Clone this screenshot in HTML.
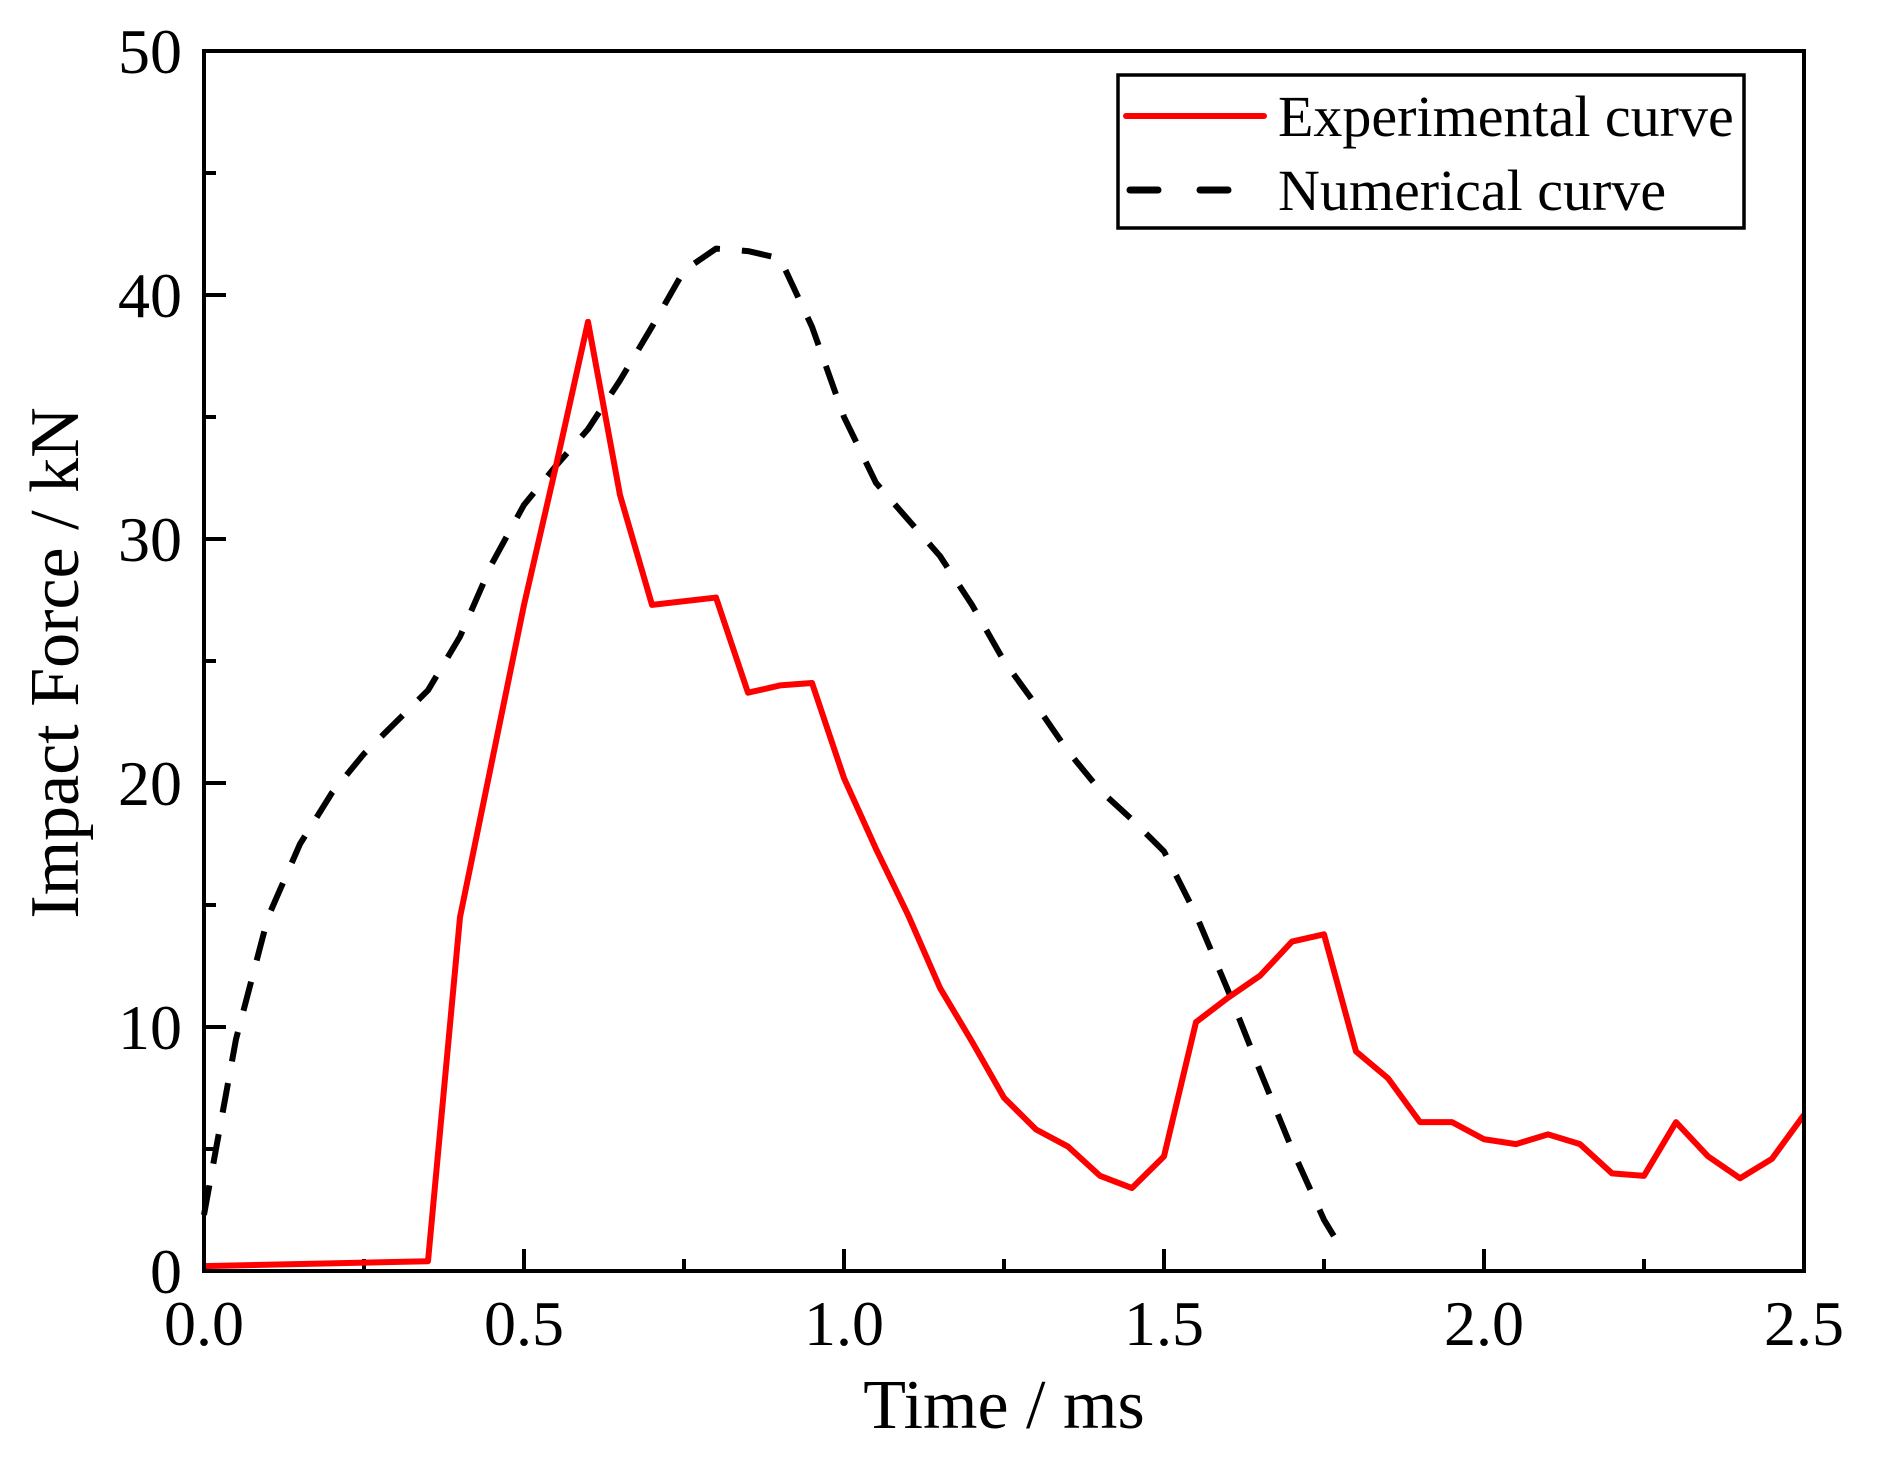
<!DOCTYPE html>
<html><head><meta charset="utf-8"><style>
body{margin:0;background:#fff}
svg{display:block}
text{font-family:"Liberation Serif",serif;fill:#000}
</style></head><body>
<svg id="chart" width="1879" height="1464" viewBox="0 0 1879 1464" xmlns="http://www.w3.org/2000/svg">
<g id="plot"></g>
</svg>
<script>
const expT=[0,0.35,0.4,0.5,0.55,0.6,0.65,0.7,0.8,0.85,0.9,0.95,1.0,1.05,1.1,1.15,1.2,1.25,1.3,1.35,1.4,1.45,1.5,1.55,1.6,1.65,1.7,1.75,1.8,1.85,1.9,1.95,2.0,2.05,2.1,2.15,2.2,2.25,2.3,2.35,2.4,2.45,2.5];
const expF=[0.2,0.4,14.5,27.3,33,38.9,31.8,27.3,27.6,23.7,24,24.1,20.2,17.3,14.6,11.6,9.4,7.1,5.8,5.1,3.9,3.4,4.7,10.2,11.2,12.1,13.5,13.8,9.0,7.9,6.1,6.1,5.4,5.2,5.6,5.2,4.0,3.9,6.1,4.7,3.8,4.6,6.4];
const numT=[0,0.05,0.1,0.15,0.2,0.25,0.3,0.35,0.4,0.45,0.5,0.55,0.6,0.65,0.7,0.75,0.8,0.85,0.9,0.95,1.0,1.05,1.1,1.15,1.2,1.25,1.3,1.35,1.4,1.45,1.5,1.55,1.6,1.65,1.7,1.75,1.78];
const numF=[2.3,9.5,14.5,17.5,19.6,21.2,22.5,23.8,26,29,31.4,33,34.5,36.5,38.7,41,41.9,41.8,41.5,38.7,35,32.3,30.8,29.3,27.3,25,23.2,21.3,19.7,18.5,17.2,14.6,11.5,8.2,5.0,2.1,0.8];
const xTicks=["0.0","0.5","1.0","1.5","2.0","2.5"];
const yTicks=["0","10","20","30","40","50"];

const L=204,R=1804,T=51,B=1271;
const xS=v=>L+(v/2.5)*(R-L);
const yS=v=>B-(v/50)*(B-T);
const NS="http://www.w3.org/2000/svg";
const g=document.getElementById('plot');
function mk(tag,attrs){const e=document.createElementNS(NS,tag);for(const k in attrs)e.setAttribute(k,attrs[k]);g.appendChild(e);return e;}

for(let i=0;i<=10;i++){
  const v=i*0.25, x=xS(v), len=(i%2==0)?22:12;
  const t=mk('line',{x1:x,x2:x,y1:B,y2:B-len,stroke:'#000','stroke-width':4});
  
  
}
xTicks.forEach(s=>{
  const t=mk('text',{x:xS(parseFloat(s)),y:B+74,'text-anchor':'middle','font-size':64});
  t.textContent=s;
  
  
});
for(let i=0;i<=10;i++){
  const v=i*5, y=yS(v), len=(i%2==0)?22:12;
  const t=mk('line',{x1:L,x2:L+len,y1:y,y2:y,stroke:'#000','stroke-width':4});
  
  
}
yTicks.forEach(s=>{
  const t=mk('text',{x:L-22,y:yS(parseFloat(s))+22,'text-anchor':'end','font-size':64});
  t.textContent=s;
  
  
});

function pts(xs,ys){return xs.map((x,i)=>xS(x)+','+yS(ys[i])).join(' ');}
const num=mk('polyline',{points:pts(numT,numF),fill:'none',stroke:'#000','stroke-width':6,'stroke-dasharray':'30,22','stroke-linejoin':'round'});


const exp=mk('polyline',{points:pts(expT,expF),fill:'none',stroke:'#ff0000','stroke-width':6,'stroke-linejoin':'round'});



const fr=mk('rect',{x:L,y:T,width:R-L,height:B-T,fill:'none',stroke:'#000','stroke-width':4});



const xt=mk('text',{x:(L+R)/2,y:1428,'text-anchor':'middle','font-size':70});
xt.textContent='Time / ms';


const yt=mk('text',{x:0,y:0,'text-anchor':'middle','font-size':70,transform:'translate(78,663) rotate(-90)'});
yt.textContent='Impact Force / kN';



const lg=mk('rect',{x:1118,y:75,width:626,height:153,fill:'#fff',stroke:'#000','stroke-width':3.5});


const l1=mk('line',{x1:1126,x2:1264,y1:116,y2:116,stroke:'#ff0000','stroke-width':6,'stroke-linecap':'round'});


const t1=mk('text',{x:1278,y:136,'font-size':58});
t1.textContent='Experimental curve';


const l2=mk('line',{x1:1130,x2:1230,y1:190,y2:190,stroke:'#000','stroke-width':7,'stroke-dasharray':'28,42','stroke-linecap':'round'});


const t2=mk('text',{x:1278,y:210,'font-size':58});
t2.textContent='Numerical curve';


</script>
</body></html>
